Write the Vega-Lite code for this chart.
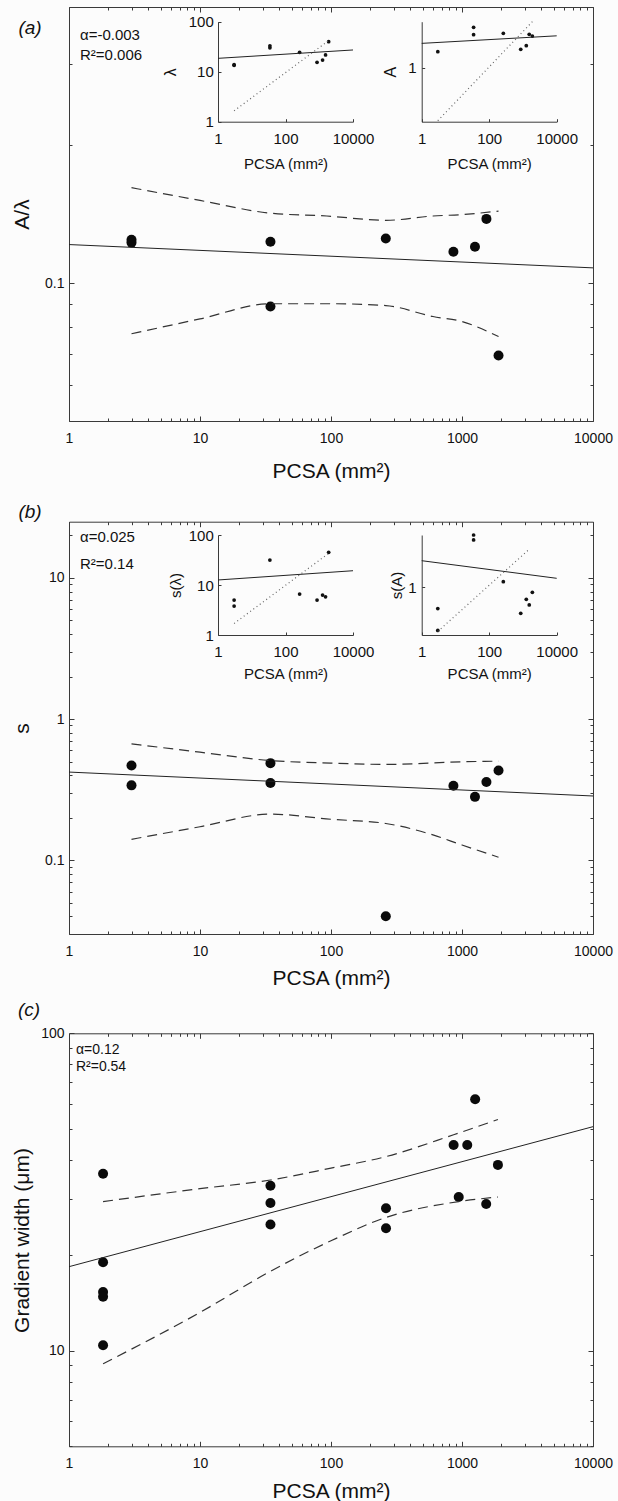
{
"$schema": "https://vega.github.io/schema/vega-lite/v6.json",
"width": 618, "height": 1501,
"autosize": {"type": "none"},
"padding": 0,
"background": "#fcfcfc",
"config": {
  "view": {"stroke": null},
  "font": "Liberation Sans",
  "axis": {"grid": false, "domainColor": "#3a3a3a", "tickColor": "#3a3a3a", "domainWidth": 1, "tickWidth": 1,
           "labelColor": "#111", "titleColor": "#111", "labelFont": "Liberation Sans", "titleFont": "Liberation Sans",
           "titleFontWeight": "normal", "labelFontSize": 14, "titleFontSize": 21,
           "labelOverlap": false, "labelFlush": false, "labelBound": false}
},
"datasets": {
  "aP": [{"pcsa":3,"val":0.1242},{"pcsa":3,"val":0.1225},{"pcsa":34.5,"val":0.123},{"pcsa":34.5,"val":0.0889},{"pcsa":262,"val":0.125},{"pcsa":860,"val":0.117},{"pcsa":1256,"val":0.120},{"pcsa":1536,"val":0.138},{"pcsa":1900,"val":0.0695}],
  "aL": [{"s":"fit","pcsa":1,"val":0.1213},{"s":"fit","pcsa":10000,"val":0.1079},
         {"s":"up","pcsa":3,"val":0.1614},{"s":"up","pcsa":10,"val":0.1514},{"s":"up","pcsa":34.5,"val":0.142},{"s":"up","pcsa":93,"val":0.140},{"s":"up","pcsa":262,"val":0.137},{"s":"up","pcsa":600,"val":0.140},{"s":"up","pcsa":1000,"val":0.141},{"s":"up","pcsa":1900,"val":0.1435},
         {"s":"lo","pcsa":3,"val":0.0775},{"s":"lo","pcsa":10,"val":0.0835},{"s":"lo","pcsa":34.5,"val":0.0901},{"s":"lo","pcsa":100,"val":0.0901},{"s":"lo","pcsa":262,"val":0.0893},{"s":"lo","pcsa":600,"val":0.0845},{"s":"lo","pcsa":1000,"val":0.0824},{"s":"lo","pcsa":1900,"val":0.0764}],
  "a1P": [{"pcsa":3,"val":13.4},{"pcsa":3,"val":13.8},{"pcsa":34.5,"val":30},{"pcsa":34.5,"val":33},{"pcsa":262,"val":24.4},{"pcsa":860,"val":15.4},{"pcsa":1256,"val":17.1},{"pcsa":1536,"val":21.6},{"pcsa":1900,"val":39.8}],
  "a1L": [{"s":"fit","pcsa":1,"val":18.5},{"s":"fit","pcsa":10000,"val":27.2},{"s":"iso","pcsa":3,"val":1.65},{"s":"iso","pcsa":1900,"val":42}],
  "a2P": [{"pcsa":3,"val":1.63},{"pcsa":34.5,"val":3.38},{"pcsa":34.5,"val":2.71},{"pcsa":262,"val":2.82},{"pcsa":860,"val":1.75},{"pcsa":1256,"val":1.95},{"pcsa":1536,"val":2.74},{"pcsa":1900,"val":2.6}],
  "a2L": [{"s":"fit","pcsa":1,"val":2.09},{"s":"fit","pcsa":10000,"val":2.62},{"s":"iso","pcsa":3,"val":0.206},{"s":"iso","pcsa":1900,"val":4.0}],
  "bP": [{"pcsa":3,"val":0.469},{"pcsa":3,"val":0.339},{"pcsa":34.5,"val":0.487},{"pcsa":34.5,"val":0.352},{"pcsa":262,"val":0.0401},{"pcsa":860,"val":0.337},{"pcsa":1256,"val":0.281},{"pcsa":1536,"val":0.358},{"pcsa":1900,"val":0.432}],
  "bL": [{"s":"fit","pcsa":1,"val":0.421},{"s":"fit","pcsa":10000,"val":0.285},
         {"s":"up","pcsa":3,"val":0.667},{"s":"up","pcsa":10,"val":0.582},{"s":"up","pcsa":34.5,"val":0.508},{"s":"up","pcsa":100,"val":0.487},{"s":"up","pcsa":262,"val":0.477},{"s":"up","pcsa":1000,"val":0.498},{"s":"up","pcsa":1900,"val":0.503},
         {"s":"lo","pcsa":3,"val":0.1406},{"s":"lo","pcsa":10,"val":0.1725},{"s":"lo","pcsa":34.5,"val":0.212},{"s":"lo","pcsa":100,"val":0.195},{"s":"lo","pcsa":262,"val":0.182},{"s":"lo","pcsa":600,"val":0.151},{"s":"lo","pcsa":1000,"val":0.128},{"s":"lo","pcsa":1900,"val":0.105}],
  "b1P": [{"pcsa":3,"val":5.0},{"pcsa":3,"val":3.8},{"pcsa":34.5,"val":31.6},{"pcsa":262,"val":6.6},{"pcsa":860,"val":5.0},{"pcsa":1256,"val":6.3},{"pcsa":1536,"val":5.8},{"pcsa":1900,"val":45}],
  "b1L": [{"s":"fit","pcsa":1,"val":12.6},{"s":"fit","pcsa":10000,"val":19.3},{"s":"iso","pcsa":3,"val":1.7},{"s":"iso","pcsa":1900,"val":43}],
  "b2P": [{"pcsa":3,"val":0.43},{"pcsa":3,"val":0.18},{"pcsa":34.5,"val":8.0},{"pcsa":34.5,"val":6.57},{"pcsa":262,"val":1.25},{"pcsa":860,"val":0.355},{"pcsa":1256,"val":0.62},{"pcsa":1536,"val":0.495},{"pcsa":1900,"val":0.82}],
  "b2L": [{"s":"fit","pcsa":1,"val":2.88},{"s":"fit","pcsa":10000,"val":1.43},{"s":"iso","pcsa":3,"val":0.173},{"s":"iso","pcsa":1450,"val":4.4}],
  "cP": [{"pcsa":1.82,"val":36.1},{"pcsa":1.82,"val":19.0},{"pcsa":1.82,"val":15.3},{"pcsa":1.82,"val":14.8},{"pcsa":1.82,"val":10.4},{"pcsa":34.5,"val":33.1},{"pcsa":34.5,"val":29.2},{"pcsa":34.5,"val":25.0},{"pcsa":263,"val":28.1},{"pcsa":263,"val":24.3},{"pcsa":863,"val":44.5},{"pcsa":944,"val":30.5},{"pcsa":1097,"val":44.5},{"pcsa":1260,"val":62.0},{"pcsa":1530,"val":29.0},{"pcsa":1880,"val":38.5}],
  "cL": [{"s":"fit","pcsa":1,"val":18.4},{"s":"fit","pcsa":10000,"val":50.8},
         {"s":"up","pcsa":1.82,"val":29.5},{"s":"up","pcsa":10,"val":32.4},{"s":"up","pcsa":34.5,"val":34.5},{"s":"up","pcsa":100,"val":37.6},{"s":"up","pcsa":263,"val":40.9},{"s":"up","pcsa":863,"val":47.9},{"s":"up","pcsa":1880,"val":53.5},
         {"s":"lo","pcsa":1.82,"val":9.1},{"s":"lo","pcsa":10,"val":13.2},{"s":"lo","pcsa":34.5,"val":17.8},{"s":"lo","pcsa":100,"val":22.2},{"s":"lo","pcsa":263,"val":26.3},{"s":"lo","pcsa":944,"val":29.5},{"s":"lo","pcsa":1880,"val":30.5}]
},
"resolve": {"scale": {"x": "independent", "y": "independent"}, "axis": {"x": "independent", "y": "independent"}},
"layer": [
 {
  "resolve": {"scale": {"x": "shared", "y": "shared"}, "axis": {"x": "independent", "y": "independent"}},
  "layer": [
   {"data": {"name": "aP"}, "mark": {"type": "circle", "size": 100, "color": "#0a0a0a", "opacity": 1},
    "encoding": {
     "x": {"field": "pcsa", "type": "quantitative", "scale": {"type": "log", "domain": [1, 10000], "range": [69, 593], "nice": false},
           "axis": {"orient": "bottom", "offset": -1080, "values": [1,2,3,4,5,6,7,8,9,10,20,30,40,50,60,70,80,90,100,200,300,400,500,600,700,800,900,1000,2000,3000,4000,5000,6000,7000,8000,9000,10000],
                    "format": "~g", "labelExpr": "abs(log(datum.value)/LN10-round(log(datum.value)/LN10))<0.000001 ? datum.label : ''",
                    "tickSize": {"condition": {"test": "abs(log(datum.value)/LN10-round(log(datum.value)/LN10))<0.000001", "value": -5}, "value": -3},
                    "labelPadding": 15, "title": "PCSA (mm²)", "titleX": 331, "titleY": 50.7, "titleAlign": "center", "titleBaseline": "middle"}},
     "y": {"field": "val", "type": "quantitative", "scale": {"type": "log", "domain": [0.05, 0.4], "range": [421, 7], "nice": false},
           "axis": {"orient": "left", "offset": -69, "values": [0.05,0.06,0.07,0.08,0.09,0.1,0.2,0.3,0.4],
                    "format": "~g", "labelExpr": "abs(log(datum.value)/LN10-round(log(datum.value)/LN10))<0.000001 ? datum.label : ''",
                    "tickSize": {"condition": {"test": "abs(log(datum.value)/LN10-round(log(datum.value)/LN10))<0.000001", "value": -5}, "value": -3},
                    "labelPadding": 10, "title": "A/λ", "titleX": -47, "titleY": 214, "titleAngle": -90, "titleAlign": "center", "titleBaseline": "middle"}}
    }},
   {"data": {"name": "aL"}, "transform": [{"filter": "datum.s=='fit'"}], "mark": {"type": "line", "color": "#222", "strokeWidth": 1},
    "encoding": {
     "x": {"field": "pcsa", "type": "quantitative", "axis": {"orient": "top", "offset": -7, "labels": false, "title": null,
           "values": [1,2,3,4,5,6,7,8,9,10,20,30,40,50,60,70,80,90,100,200,300,400,500,600,700,800,900,1000,2000,3000,4000,5000,6000,7000,8000,9000,10000],
           "tickSize": {"condition": {"test": "abs(log(datum.value)/LN10-round(log(datum.value)/LN10))<0.000001", "value": -5}, "value": -3}}},
     "y": {"field": "val", "type": "quantitative", "axis": {"orient": "right", "offset": -25, "labels": false, "title": null,
           "values": [0.05,0.06,0.07,0.08,0.09,0.1,0.2,0.3,0.4],
           "tickSize": {"condition": {"test": "abs(log(datum.value)/LN10-round(log(datum.value)/LN10))<0.000001", "value": -5}, "value": -3}}}
    }},
   {"data": {"name": "aL"}, "transform": [{"filter": "datum.s=='up'"}], "mark": {"type": "line", "color": "#333", "strokeWidth": 1.2, "strokeDash": [10, 6], "interpolate": "monotone"},
    "encoding": {"x": {"field": "pcsa", "type": "quantitative", "axis": null}, "y": {"field": "val", "type": "quantitative", "axis": null}}},
   {"data": {"name": "aL"}, "transform": [{"filter": "datum.s=='lo'"}], "mark": {"type": "line", "color": "#333", "strokeWidth": 1.2, "strokeDash": [10, 6], "interpolate": "monotone"},
    "encoding": {"x": {"field": "pcsa", "type": "quantitative", "axis": null}, "y": {"field": "val", "type": "quantitative", "axis": null}}},
   {"data": {"values": [{}]}, "mark": {"type": "text", "text": "α=-0.003", "align": "left", "baseline": "middle", "fontSize": 15, "color": "#111"},
    "encoding": {"x": {"datum": 1.213, "type": "quantitative", "axis": null}, "y": {"datum": 0.3475, "type": "quantitative", "axis": null}}},
   {"data": {"values": [{}]}, "mark": {"type": "text", "text": "R²=0.006", "align": "left", "baseline": "middle", "fontSize": 15, "color": "#111"},
    "encoding": {"x": {"datum": 1.213, "type": "quantitative", "axis": null}, "y": {"datum": 0.3144, "type": "quantitative", "axis": null}}},
   {"data": {"values": [{}]}, "mark": {"type": "text", "text": "(a)", "align": "center", "baseline": "middle", "fontSize": 19, "fontStyle": "italic", "color": "#111"},
    "encoding": {"x": {"datum": 0.504, "type": "quantitative", "axis": null}, "y": {"datum": 0.360, "type": "quantitative", "axis": null}}}
  ]
 },
 {
  "resolve": {"scale": {"x": "shared", "y": "shared"}, "axis": {"x": "independent", "y": "independent"}},
  "layer": [
   {"data": {"name": "a1P"}, "mark": {"type": "circle", "size": 14, "color": "#111", "opacity": 1},
    "encoding": {
     "x": {"field": "pcsa", "type": "quantitative", "scale": {"type": "log", "domain": [1, 10000], "range": [218, 353], "nice": false},
           "axis": {"orient": "bottom", "offset": -1379.3, "values": [1, 100, 10000], "format": "~g", "tickSize": -3, "labelPadding": 12.6, "labelFontSize": 15,
                    "title": "PCSA (mm²)", "titleFontSize": 15, "titleX": 285.5, "titleY": 41.3, "titleAlign": "center", "titleBaseline": "middle"}},
     "y": {"field": "val", "type": "quantitative", "scale": {"type": "log", "domain": [1, 100], "range": [121.7, 21.7], "nice": false},
           "axis": {"orient": "left", "offset": -218, "values": [1, 10, 100], "format": "~g", "tickSize": -3, "labelPadding": 7.7, "labelFontSize": 15,
                    "title": "λ", "titleFontSize": 16, "titleX": -48, "titleY": 71.7, "titleAngle": -90, "titleAlign": "center", "titleBaseline": "middle"}}
    }},
   {"data": {"name": "a1L"}, "transform": [{"filter": "datum.s=='fit'"}], "mark": {"type": "line", "color": "#222", "strokeWidth": 1},
    "encoding": {"x": {"field": "pcsa", "type": "quantitative", "axis": null}, "y": {"field": "val", "type": "quantitative", "axis": null}}},
   {"data": {"name": "a1L"}, "transform": [{"filter": "datum.s=='iso'"}], "mark": {"type": "line", "color": "#666", "strokeWidth": 1.2, "strokeDash": [1, 3]},
    "encoding": {"x": {"field": "pcsa", "type": "quantitative", "axis": null}, "y": {"field": "val", "type": "quantitative", "axis": null}}}
  ]
 },
 {
  "resolve": {"scale": {"x": "shared", "y": "shared"}, "axis": {"x": "independent", "y": "independent"}},
  "layer": [
   {"data": {"name": "a2P"}, "mark": {"type": "circle", "size": 14, "color": "#111", "opacity": 1},
    "encoding": {
     "x": {"field": "pcsa", "type": "quantitative", "scale": {"type": "log", "domain": [1, 10000], "range": [421.7, 556.7], "nice": false},
           "axis": {"orient": "bottom", "offset": -1379.3, "values": [1, 100, 10000], "format": "~g", "tickSize": -3, "labelPadding": 12.6, "labelFontSize": 15,
                    "title": "PCSA (mm²)", "titleFontSize": 15, "titleX": 489.2, "titleY": 41.3, "titleAlign": "center", "titleBaseline": "middle"}},
     "y": {"field": "val", "type": "quantitative", "scale": {"type": "log", "domain": [0.2, 4], "range": [121.7, 21.7], "nice": false},
           "axis": {"orient": "left", "offset": -421.7, "values": [1], "format": "~g", "tickSize": -3, "labelPadding": 8.5, "labelFontSize": 15,
                    "title": "A", "titleFontSize": 16, "titleX": -31.7, "titleY": 71.7, "titleAngle": -90, "titleAlign": "center", "titleBaseline": "middle"}}
    }},
   {"data": {"name": "a2L"}, "transform": [{"filter": "datum.s=='fit'"}], "mark": {"type": "line", "color": "#222", "strokeWidth": 1},
    "encoding": {"x": {"field": "pcsa", "type": "quantitative", "axis": null}, "y": {"field": "val", "type": "quantitative", "axis": null}}},
   {"data": {"name": "a2L"}, "transform": [{"filter": "datum.s=='iso'"}], "mark": {"type": "line", "color": "#666", "strokeWidth": 1.2, "strokeDash": [1, 3]},
    "encoding": {"x": {"field": "pcsa", "type": "quantitative", "axis": null}, "y": {"field": "val", "type": "quantitative", "axis": null}}}
  ]
 },
 {
  "resolve": {"scale": {"x": "shared", "y": "shared"}, "axis": {"x": "independent", "y": "independent"}},
  "layer": [
   {"data": {"name": "bP"}, "mark": {"type": "circle", "size": 100, "color": "#0a0a0a", "opacity": 1},
    "encoding": {
     "x": {"field": "pcsa", "type": "quantitative", "scale": {"type": "log", "domain": [1, 10000], "range": [69, 593], "nice": false},
           "axis": {"orient": "bottom", "offset": -567, "values": [1,2,3,4,5,6,7,8,9,10,20,30,40,50,60,70,80,90,100,200,300,400,500,600,700,800,900,1000,2000,3000,4000,5000,6000,7000,8000,9000,10000],
                    "format": "~g", "labelExpr": "abs(log(datum.value)/LN10-round(log(datum.value)/LN10))<0.000001 ? datum.label : ''",
                    "tickSize": {"condition": {"test": "abs(log(datum.value)/LN10-round(log(datum.value)/LN10))<0.000001", "value": -5}, "value": -3},
                    "labelPadding": 15, "title": "PCSA (mm²)", "titleX": 331, "titleY": 44.3, "titleAlign": "center", "titleBaseline": "middle"}},
     "y": {"field": "val", "type": "quantitative", "scale": {"type": "log", "domain": [0.03, 25], "range": [934, 521.7], "nice": false},
           "axis": {"orient": "left", "offset": -69, "values": [0.03,0.04,0.05,0.06,0.07,0.08,0.09,0.1,0.2,0.3,0.4,0.5,0.6,0.7,0.8,0.9,1,2,3,4,5,6,7,8,9,10,20],
                    "format": "~g", "labelExpr": "abs(log(datum.value)/LN10-round(log(datum.value)/LN10))<0.000001 ? datum.label : ''",
                    "tickSize": {"condition": {"test": "abs(log(datum.value)/LN10-round(log(datum.value)/LN10))<0.000001", "value": -5}, "value": -3},
                    "labelPadding": 10, "title": "s", "titleX": -47, "titleY": 728, "titleAngle": -90, "titleAlign": "center", "titleBaseline": "middle"}}
    }},
   {"data": {"name": "bL"}, "transform": [{"filter": "datum.s=='fit'"}], "mark": {"type": "line", "color": "#222", "strokeWidth": 1},
    "encoding": {
     "x": {"field": "pcsa", "type": "quantitative", "axis": {"orient": "top", "offset": -521.7, "labels": false, "title": null,
           "values": [1,2,3,4,5,6,7,8,9,10,20,30,40,50,60,70,80,90,100,200,300,400,500,600,700,800,900,1000,2000,3000,4000,5000,6000,7000,8000,9000,10000],
           "tickSize": {"condition": {"test": "abs(log(datum.value)/LN10-round(log(datum.value)/LN10))<0.000001", "value": -5}, "value": -3}}},
     "y": {"field": "val", "type": "quantitative", "axis": {"orient": "right", "offset": -25, "labels": false, "title": null,
           "values": [0.03,0.04,0.05,0.06,0.07,0.08,0.09,0.1,0.2,0.3,0.4,0.5,0.6,0.7,0.8,0.9,1,2,3,4,5,6,7,8,9,10,20],
           "tickSize": {"condition": {"test": "abs(log(datum.value)/LN10-round(log(datum.value)/LN10))<0.000001", "value": -5}, "value": -3}}}
    }},
   {"data": {"name": "bL"}, "transform": [{"filter": "datum.s=='up'"}], "mark": {"type": "line", "color": "#333", "strokeWidth": 1.2, "strokeDash": [10, 6], "interpolate": "monotone"},
    "encoding": {"x": {"field": "pcsa", "type": "quantitative", "axis": null}, "y": {"field": "val", "type": "quantitative", "axis": null}}},
   {"data": {"name": "bL"}, "transform": [{"filter": "datum.s=='lo'"}], "mark": {"type": "line", "color": "#333", "strokeWidth": 1.2, "strokeDash": [10, 6], "interpolate": "monotone"},
    "encoding": {"x": {"field": "pcsa", "type": "quantitative", "axis": null}, "y": {"field": "val", "type": "quantitative", "axis": null}}},
   {"data": {"values": [{}]}, "mark": {"type": "text", "text": "α=0.025", "align": "left", "baseline": "middle", "fontSize": 15, "color": "#111"},
    "encoding": {"x": {"datum": 1.213, "type": "quantitative", "axis": null}, "y": {"datum": 19.57, "type": "quantitative", "axis": null}}},
   {"data": {"values": [{}]}, "mark": {"type": "text", "text": "R²=0.14", "align": "left", "baseline": "middle", "fontSize": 15, "color": "#111"},
    "encoding": {"x": {"datum": 1.213, "type": "quantitative", "axis": null}, "y": {"datum": 12.54, "type": "quantitative", "axis": null}}},
   {"data": {"values": [{}]}, "mark": {"type": "text", "text": "(b)", "align": "center", "baseline": "middle", "fontSize": 19, "fontStyle": "italic", "color": "#111"},
    "encoding": {"x": {"datum": 0.504, "type": "quantitative", "axis": null}, "y": {"datum": 29.4, "type": "quantitative", "axis": null}}}
  ]
 },
 {
  "resolve": {"scale": {"x": "shared", "y": "shared"}, "axis": {"x": "independent", "y": "independent"}},
  "layer": [
   {"data": {"name": "b1P"}, "mark": {"type": "circle", "size": 14, "color": "#111", "opacity": 1},
    "encoding": {
     "x": {"field": "pcsa", "type": "quantitative", "scale": {"type": "log", "domain": [1, 10000], "range": [218, 353], "nice": false},
           "axis": {"orient": "bottom", "offset": -866, "values": [1, 100, 10000], "format": "~g", "tickSize": -3, "labelPadding": 12.6, "labelFontSize": 15,
                    "title": "PCSA (mm²)", "titleFontSize": 15, "titleX": 285.5, "titleY": 38.3, "titleAlign": "center", "titleBaseline": "middle"}},
     "y": {"field": "val", "type": "quantitative", "scale": {"type": "log", "domain": [1, 100], "range": [635, 535], "nice": false},
           "axis": {"orient": "left", "offset": -218, "values": [1, 10, 100], "format": "~g", "tickSize": -3, "labelPadding": 7.7, "labelFontSize": 15,
                    "title": "s(λ)", "titleFontSize": 15, "titleX": -43, "titleY": 585, "titleAngle": -90, "titleAlign": "center", "titleBaseline": "middle"}}
    }},
   {"data": {"name": "b1L"}, "transform": [{"filter": "datum.s=='fit'"}], "mark": {"type": "line", "color": "#222", "strokeWidth": 1},
    "encoding": {"x": {"field": "pcsa", "type": "quantitative", "axis": null}, "y": {"field": "val", "type": "quantitative", "axis": null}}},
   {"data": {"name": "b1L"}, "transform": [{"filter": "datum.s=='iso'"}], "mark": {"type": "line", "color": "#666", "strokeWidth": 1.2, "strokeDash": [1, 3]},
    "encoding": {"x": {"field": "pcsa", "type": "quantitative", "axis": null}, "y": {"field": "val", "type": "quantitative", "axis": null}}}
  ]
 },
 {
  "resolve": {"scale": {"x": "shared", "y": "shared"}, "axis": {"x": "independent", "y": "independent"}},
  "layer": [
   {"data": {"name": "b2P"}, "mark": {"type": "circle", "size": 14, "color": "#111", "opacity": 1},
    "encoding": {
     "x": {"field": "pcsa", "type": "quantitative", "scale": {"type": "log", "domain": [1, 10000], "range": [421.7, 556.7], "nice": false},
           "axis": {"orient": "bottom", "offset": -866, "values": [1, 100, 10000], "format": "~g", "tickSize": -3, "labelPadding": 12.6, "labelFontSize": 15,
                    "title": "PCSA (mm²)", "titleFontSize": 15, "titleX": 489.2, "titleY": 38.3, "titleAlign": "center", "titleBaseline": "middle"}},
     "y": {"field": "val", "type": "quantitative", "scale": {"type": "log", "domain": [0.15, 8], "range": [635, 535], "nice": false},
           "axis": {"orient": "left", "offset": -421.7, "values": [1], "format": "~g", "tickSize": -3, "labelPadding": 8.5, "labelFontSize": 15,
                    "title": "s(A)", "titleFontSize": 15, "titleX": -25, "titleY": 585, "titleAngle": -90, "titleAlign": "center", "titleBaseline": "middle"}}
    }},
   {"data": {"name": "b2L"}, "transform": [{"filter": "datum.s=='fit'"}], "mark": {"type": "line", "color": "#222", "strokeWidth": 1},
    "encoding": {"x": {"field": "pcsa", "type": "quantitative", "axis": null}, "y": {"field": "val", "type": "quantitative", "axis": null}}},
   {"data": {"name": "b2L"}, "transform": [{"filter": "datum.s=='iso'"}], "mark": {"type": "line", "color": "#666", "strokeWidth": 1.2, "strokeDash": [1, 3]},
    "encoding": {"x": {"field": "pcsa", "type": "quantitative", "axis": null}, "y": {"field": "val", "type": "quantitative", "axis": null}}}
  ]
 },
 {
  "resolve": {"scale": {"x": "shared", "y": "shared"}, "axis": {"x": "independent", "y": "independent"}},
  "layer": [
   {"data": {"name": "cP"}, "mark": {"type": "circle", "size": 100, "color": "#0a0a0a", "opacity": 1},
    "encoding": {
     "x": {"field": "pcsa", "type": "quantitative", "scale": {"type": "log", "domain": [1, 10000], "range": [69, 593], "nice": false},
           "axis": {"orient": "bottom", "offset": -54.7, "values": [1,2,3,4,5,6,7,8,9,10,20,30,40,50,60,70,80,90,100,200,300,400,500,600,700,800,900,1000,2000,3000,4000,5000,6000,7000,8000,9000,10000],
                    "format": "~g", "labelExpr": "abs(log(datum.value)/LN10-round(log(datum.value)/LN10))<0.000001 ? datum.label : ''",
                    "tickSize": {"condition": {"test": "abs(log(datum.value)/LN10-round(log(datum.value)/LN10))<0.000001", "value": -5}, "value": -3},
                    "labelPadding": 15, "title": "PCSA (mm²)", "titleX": 331, "titleY": 44.7, "titleAlign": "center", "titleBaseline": "middle"}},
     "y": {"field": "val", "type": "quantitative", "scale": {"type": "log", "domain": [5, 100], "range": [1446.3, 1033.3], "nice": false},
           "axis": {"orient": "left", "offset": -69, "values": [5,6,7,8,9,10,20,30,40,50,60,70,80,90,100],
                    "format": "~g", "labelExpr": "abs(log(datum.value)/LN10-round(log(datum.value)/LN10))<0.000001 ? datum.label : ''",
                    "tickSize": {"condition": {"test": "abs(log(datum.value)/LN10-round(log(datum.value)/LN10))<0.000001", "value": -5}, "value": -3},
                    "labelPadding": 10, "title": "Gradient width (μm)", "titleX": -47, "titleY": 1240, "titleAngle": -90, "titleAlign": "center", "titleBaseline": "middle"}}
    }},
   {"data": {"name": "cL"}, "transform": [{"filter": "datum.s=='fit'"}], "mark": {"type": "line", "color": "#222", "strokeWidth": 1},
    "encoding": {
     "x": {"field": "pcsa", "type": "quantitative", "axis": {"orient": "top", "offset": -1033.3, "labels": false, "title": null,
           "values": [1,2,3,4,5,6,7,8,9,10,20,30,40,50,60,70,80,90,100,200,300,400,500,600,700,800,900,1000,2000,3000,4000,5000,6000,7000,8000,9000,10000],
           "tickSize": {"condition": {"test": "abs(log(datum.value)/LN10-round(log(datum.value)/LN10))<0.000001", "value": -5}, "value": -3}}},
     "y": {"field": "val", "type": "quantitative", "axis": {"orient": "right", "offset": -25, "labels": false, "title": null,
           "values": [5,6,7,8,9,10,20,30,40,50,60,70,80,90,100],
           "tickSize": {"condition": {"test": "abs(log(datum.value)/LN10-round(log(datum.value)/LN10))<0.000001", "value": -5}, "value": -3}}}
    }},
   {"data": {"name": "cL"}, "transform": [{"filter": "datum.s=='up'"}], "mark": {"type": "line", "color": "#333", "strokeWidth": 1.2, "strokeDash": [10, 6], "interpolate": "monotone"},
    "encoding": {"x": {"field": "pcsa", "type": "quantitative", "axis": null}, "y": {"field": "val", "type": "quantitative", "axis": null}}},
   {"data": {"name": "cL"}, "transform": [{"filter": "datum.s=='lo'"}], "mark": {"type": "line", "color": "#333", "strokeWidth": 1.2, "strokeDash": [10, 6], "interpolate": "monotone"},
    "encoding": {"x": {"field": "pcsa", "type": "quantitative", "axis": null}, "y": {"field": "val", "type": "quantitative", "axis": null}}},
   {"data": {"values": [{}]}, "mark": {"type": "text", "text": "α=0.12", "align": "left", "baseline": "middle", "fontSize": 14, "color": "#111"},
    "encoding": {"x": {"datum": 1.13, "type": "quantitative", "axis": null}, "y": {"datum": 88.6, "type": "quantitative", "axis": null}}},
   {"data": {"values": [{}]}, "mark": {"type": "text", "text": "R²=0.54", "align": "left", "baseline": "middle", "fontSize": 14, "color": "#111"},
    "encoding": {"x": {"datum": 1.13, "type": "quantitative", "axis": null}, "y": {"datum": 78.5, "type": "quantitative", "axis": null}}},
   {"data": {"values": [{}]}, "mark": {"type": "text", "text": "(c)", "align": "center", "baseline": "middle", "fontSize": 19, "fontStyle": "italic", "color": "#111"},
    "encoding": {"x": {"datum": 0.495, "type": "quantitative", "axis": null}, "y": {"datum": 118.4, "type": "quantitative", "axis": null}}}
  ]
 }
]
}
